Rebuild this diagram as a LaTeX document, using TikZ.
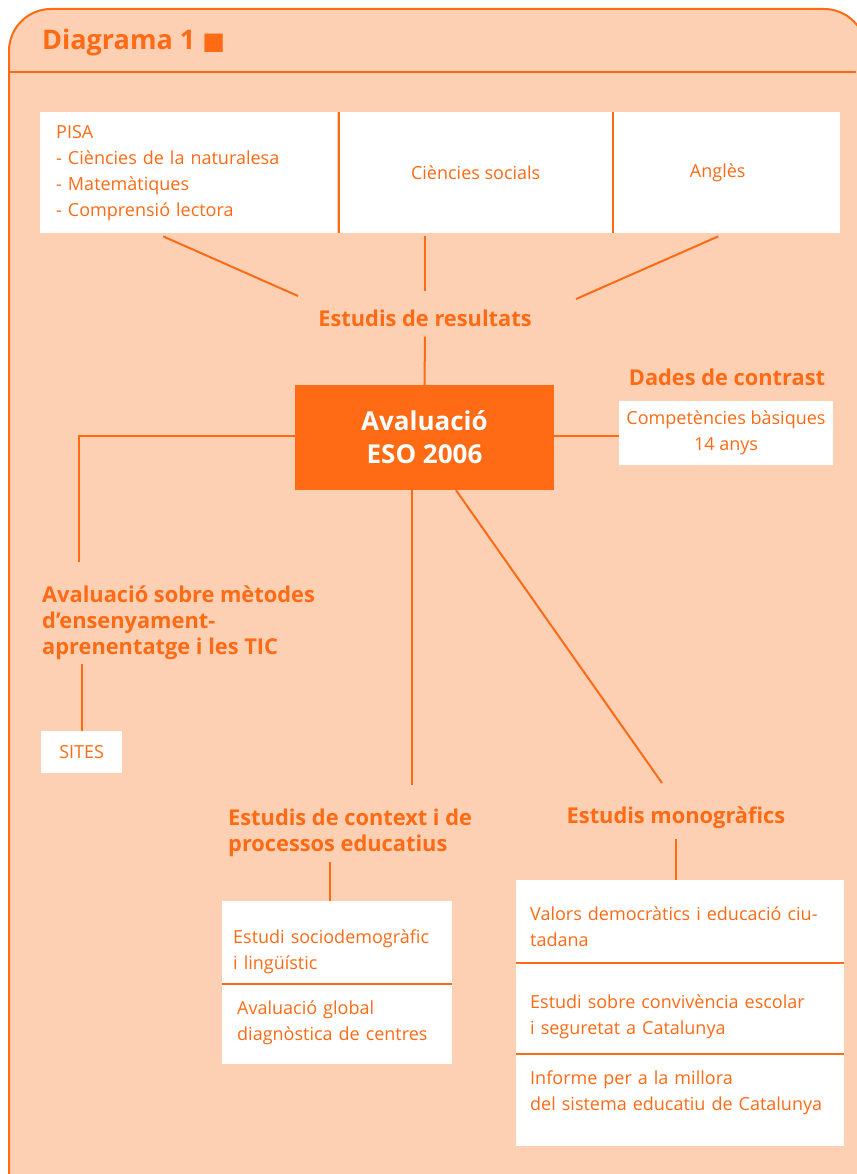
\documentclass[tikz,border=0pt]{standalone}
\usepackage{fontspec}
\setmainfont{Open Sans}
\newfontfamily\symfont{DejaVu Sans}
\usetikzlibrary{positioning}
\definecolor{peach}{HTML}{FDD0B4}
\definecolor{ora}{HTML}{FF6A14}
\newcommand\boxfont{\fontsize{18}{26}\selectfont}
\newcommand\headfont{\bfseries\fontsize{21.8}{26}\selectfont}

\begin{document}
\begin{tikzpicture}[x=1pt,y=-1pt,
  link/.style={draw=ora,line width=2pt},
  box/.style={fill=white,text=ora,font=\boxfont,inner sep=0pt},
  part/.style={box,anchor=north west,align=left},
  head/.style={text=ora,font=\headfont,inner sep=0pt}]
\useasboundingbox (0,0) rectangle (856,1174);
\path[fill=peach,draw=ora,line width=2pt,rounded corners=42pt]
  (9,1190) -- (9,9) -- (866,9) -- (866,1190);
\draw[ora,line width=1.5pt] (9,72) -- (856,72);
\node[head,anchor=west,font=\bfseries\fontsize{27}{30}\selectfont] (title) at (42,42)
  {Diagrama 1 {\symfont\fontsize{24}{26}\selectfont ■}};

% estudis de resultats
\node[box,anchor=north west,text width=265,inner xsep=16,minimum height=121,align=left] (pisa) at (40,112)
  {PISA\\- Ciències de la naturalesa\\- Matemàtiques\\- Comprensió lectora};
\node[box,anchor=north west,minimum width=273,minimum height=121] (soc) at (339,112) {Ciències socials};
\node[box,anchor=north west,minimum width=227,minimum height=121] (ang) at (613,112) {Anglès\hspace*{18pt}};
\draw[link] (soc.north west) -- (soc.south west);
\draw[link] (ang.north west) -- (ang.south west);
\node[head] (res) at (425,318) {Estudis de resultats};
\coordinate (r1) at (298,296);
\coordinate (r3) at (576,299);
\draw[link] ([xshift=-25.5pt,yshift=-3pt]pisa.south) -- (r1);
\draw[link] ([yshift=-3pt]soc.south -| res.north) -- ([yshift=18pt]res.north);
\draw[link] ([xshift=-8.5pt,yshift=-3pt]ang.south) -- (r3);

% centre
\node[fill=ora,text=white,font=\bfseries\fontsize{26}{33}\selectfont,
  minimum width=259,minimum height=105,align=center] (eso) at (424.5,437.5) {Avaluació\\ESO 2006};
\draw[link] ([yshift=-10pt]res.south) -- (eso.north);

% dades de contrast
\node[head] (dad) at (727,377) {Dades de contrast};
\node[box,minimum width=214,minimum height=64,align=center] (comp) at (726,433)
  {Competències bàsiques\\14 anys};
\draw[link] ([yshift=2pt]eso.east) -- ([yshift=2pt]eso.east -| comp.west);

% metodes
\coordinate (m1) at (79,562);
\draw[link] ([yshift=2pt]eso.west) -| (m1);
\node[head,anchor=north west,align=left] (met) at (42,586)
  {Avaluació sobre mètodes\\d’ensenyament-\\aprenentatge i les TIC};
\node[box,anchor=north west,minimum width=81,minimum height=42] (sites) at (41,731) {SITES};
\draw[link] ([yshift=-4pt]met.south -| sites.north) -- (sites.north);

% context
\coordinate (c1) at (412,785);
\draw[link] (eso.south -| c1) -- (c1);
\node[head,anchor=north west,align=left] (ctx) at (228,809)
  {Estudis de context i de\\processos educatius};
\node[part,text width=208,inner xsep=11,text height=42,text depth=41] (soc1) at (222,901)
  {Estudi sociodemogràfic\\i lingüístic};
\node[part,text width=200,inner xsep=15,text height=30,text depth=49] (soc2) at (soc1.south west)
  {Avaluació global\\diagnòstica de centres};
\draw[link] (soc1.south west) -- (soc1.south east);
\coordinate (c2) at (330,862);
\draw[link] (c2) -- (c2 |- soc1.north);

% monografics
\coordinate (d1) at (662,783);
\draw[link] ([xshift=31.5pt]eso.south) -- (d1);
\node[head] (mono) at (676,818) {Estudis monogràfics};
\node[part,text width=300,inner xsep=14,text height=40,text depth=43] (mono1) at (516,880)
  {\makebox[300pt][s]{Valors democràtics i educació ciu-}\\tadana};
\node[part,text width=300,inner xsep=14,text height=45,text depth=45] (mono2) at (mono1.south west)
  {Estudi sobre convivència escolar\\i seguretat a Catalunya};
\node[part,text width=300,inner xsep=14,text height=30,text depth=62] (mono3) at (mono2.south west)
  {Informe per a la millora\\del sistema educatiu de Catalunya};
\draw[link] (mono1.south west) -- (mono1.south east);
\draw[link] (mono2.south west) -- (mono2.south east);
\draw[link] ([yshift=-10pt]mono.south) -- (mono.south |- mono1.north);
\end{tikzpicture}
\end{document}
